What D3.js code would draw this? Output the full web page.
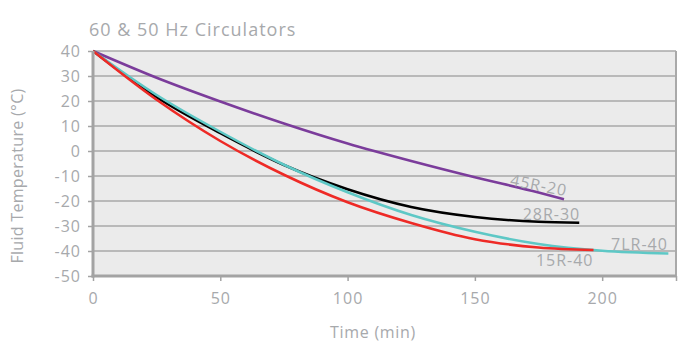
<!DOCTYPE html>
<html>
<head>
<meta charset="utf-8">
<script src="https://cdn.jsdelivr.net/npm/d3@7"></script>
<style>
  body { margin: 0; background: #fff; }
  text { font-family: "Open Sans", sans-serif; fill: #a7a9ac; }
</style>
</head>
<body>
<div id="container"></div>
<script>
const WIDTH = 694;
const HEIGHT = 345;
const MARGIN = {top: 51, right: 18, bottom: 69, left: 93};
const INNER_WIDTH = WIDTH - MARGIN.left - MARGIN.right;
const INNER_HEIGHT = HEIGHT - MARGIN.top - MARGIN.bottom;

// time (min) and fluid temperature (°C)
var t45R20 = [0, 25, 50, 75, 100, 125, 150, 175, 185];
var v45R20 = [40, 29.3, 19.8, 11, 3.0, -4.0, -10.5, -16.6, -19.3];

var t28R30 = [0, 25, 50, 75, 100, 125, 150, 175, 191];
var v28R30 = [40, 21.5, 7.1, -5.6, -15.3, -22.4, -26.4, -28.3, -28.7];

var t7LR40 = [0, 25, 50, 75, 100, 125, 150, 175, 200, 226];
var v7LR40 = [40, 22.4, 7.7, -5.5, -16.5, -25.6, -32.3, -37.2, -39.9, -41];

var t15R40 = [0, 25, 50, 75, 100, 125, 150, 175, 196.6];
var v15R40 = [40, 20.5, 4.0, -9.5, -20.5, -28.8, -35.3, -38.6, -39.6];

var xTicks = [0, 50, 100, 150, 200, 229];
var yTicks = [40, 30, 20, 10, 0, -10, -20, -30, -40, -50];

var TITLE = "60 & 50 Hz Circulators";
var X_LABEL = "Time (min)";
var Y_LABEL = "Fluid Temperature (°C)";

var zip = function (ts, vs) {
    return ts.map(function (t, i) { return {x: t, y: vs[i]}; });
};

// drawing order matches the picture: purple, black, cyan, red on top
var series = [
    {name: "45R-20", values: zip(t45R20, v45R20), color: "#7b3c9b", dx: 2, dy: -3, rotate: 11},
    {name: "28R-30", values: zip(t28R30, v28R30), color: "#000000", dx: 1, dy: -2.5, rotate: 0},
    {name: "7LR-40", values: zip(t7LR40, v7LR40), color: "#5ec8c6", dx: -0.5, dy: -3.5, rotate: 0},
    {name: "15R-40", values: zip(t15R40, v15R40), color: "#ee2a26", dx: 0, dy: 15.7, rotate: 0}
];

var XScale = d3.scaleLinear().domain([0, 229]).range([0, INNER_WIDTH]);
var YScale = d3.scaleLinear().domain([-50, 40]).range([INNER_HEIGHT, 0]);

var LINE = d3.line()
    .x(function (d) { return XScale(d.x); })
    .y(function (d) { return YScale(d.y); })
    .curve(d3.curveMonotoneX);

var generateChart = function () {
    var svg = d3.select("#container").append("svg")
        .attr("width", WIDTH)
        .attr("height", HEIGHT);

    svg.append("text")
        .attr("x", 89)
        .attr("y", 36)
        .style("font-size", "18px")
        .style("letter-spacing", "1px")
        .text(TITLE);

    var g = svg.append("g")
        .attr("transform", "translate(" + MARGIN.left + "," + MARGIN.top + ")");

    g.append("rect")
        .attr("width", INNER_WIDTH)
        .attr("height", INNER_HEIGHT)
        .attr("fill", "#ebebeb");

    // horizontal gridlines
    g.selectAll(".grid")
        .data(yTicks.filter(function (d) { return d !== -50; }))
        .enter().append("line")
        .attr("class", "grid")
        .attr("x1", 0)
        .attr("x2", INNER_WIDTH)
        .attr("y1", function (d) { return YScale(d); })
        .attr("y2", function (d) { return YScale(d); })
        .attr("stroke", "#a9a9a9")
        .attr("stroke-width", 1.6);

    // right border
    g.append("line")
        .attr("x1", INNER_WIDTH).attr("x2", INNER_WIDTH)
        .attr("y1", 0).attr("y2", INNER_HEIGHT)
        .attr("stroke", "#a9a9a9")
        .attr("stroke-width", 2);

    g.selectAll(".series")
        .data(series)
        .enter().append("path")
        .attr("class", "series")
        .attr("d", function (d) { return LINE(d.values); })
        .attr("fill", "none")
        .attr("stroke", function (d) { return d.color; })
        .attr("stroke-width", 2.5);

    var yAxis = g.append("g")
        .call(d3.axisLeft(YScale).tickValues(yTicks).tickSize(5).tickPadding(7)
            .tickFormat(function (d) { return String(d); }));
    var xAxis = g.append("g")
        .attr("transform", "translate(0," + INNER_HEIGHT + ")")
        .call(d3.axisBottom(XScale).tickValues(xTicks).tickSize(5).tickPadding(11.5)
            .tickFormat(function (d) { return d === 229 ? "" : String(d); }));

    [yAxis, xAxis].forEach(function (ax) {
        ax.select(".domain").attr("stroke", "#a3a3a3").attr("stroke-width", 3);
        ax.selectAll(".tick line").attr("stroke", "#a3a3a3").attr("stroke-width", 1.5);
        ax.selectAll(".tick text")
            .attr("fill", "#a7a9ac")
            .style("font-size", "16px")
            .style("letter-spacing", "1px")
            .style("font-family", "'Open Sans', sans-serif");
    });
    yAxis.select(".domain").attr("d", "M0," + (INNER_HEIGHT + 1.5) + "V0");
    xAxis.select(".domain").attr("d", "M-1.5,0H" + INNER_WIDTH);

    // series labels next to the end of each curve
    g.selectAll(".label")
        .data(series)
        .enter().append("text")
        .attr("class", "label")
        .attr("text-anchor", "end")
        .style("font-size", "16px")
        .style("letter-spacing", "1px")
        .attr("transform", function (d) {
            var last = d.values[d.values.length - 1];
            var px = XScale(last.x) + d.dx;
            var py = YScale(last.y) + d.dy;
            return "translate(" + px + "," + py + ") rotate(" + d.rotate + ")";
        })
        .text(function (d) { return d.name; });

    svg.append("text")
        .attr("x", MARGIN.left + XScale(110))
        .attr("y", 338)
        .attr("text-anchor", "middle")
        .style("font-size", "16px")
        .style("letter-spacing", "0.7px")
        .text(X_LABEL);

    svg.append("text")
        .attr("transform", "translate(23,176) rotate(-90)")
        .attr("text-anchor", "middle")
        .style("font-size", "16px")
        .style("letter-spacing", "0.3px")
        .text(Y_LABEL);
};

window.onload = generateChart;
</script>
</body>
</html>
